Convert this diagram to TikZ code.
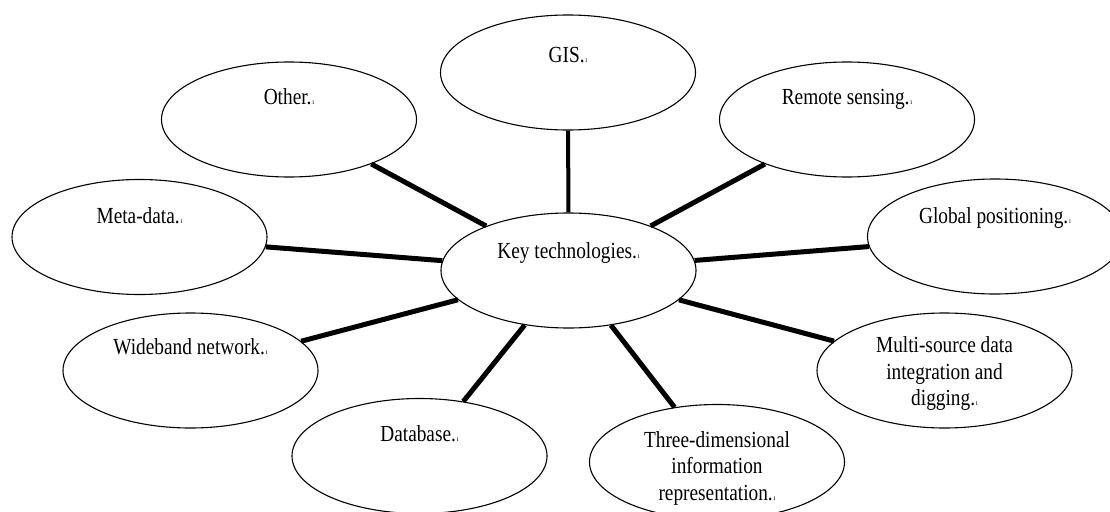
\documentclass[tikz,border=0pt]{standalone}
\usepackage{fontspec}
\setmainfont[FakeStretch=0.84]{Liberation Serif}
\usetikzlibrary{shapes.geometric}
\newcommand\pmk{{\fontsize{8}{8}\selectfont\kern0.8pt ı}}
\begin{document}
\begin{tikzpicture}[x=1pt,y=-1pt,
  blob/.style={ellipse,draw=black,line width=1.1pt,minimum width=255pt,minimum height=115pt,inner sep=0pt,fill=white},
  lbl/.style={font=\fontsize{23}{26.5}\selectfont,align=center,inner sep=0pt,anchor=north,text height=15.5pt},
  lblm/.style={font=\fontsize{23}{26.5}\selectfont,align=center,inner sep=0pt,anchor=north},
  link/.style={line width=5pt,black}]
\clip (0,0) rectangle (1110,511);
\fill[white] (0,0) rectangle (1110,511);
% ellipses
\node[blob] (gis)   at (568,72.5)    {};
\node[blob] (other) at (289,119.5)   {};
\node[blob] (rs)    at (847,119.5)   {};
\node[blob] (meta)  at (139.5,237)   {};
\node[blob] (key)   at (568.5,270.5) {};
\node[blob] (gps)   at (995,236.5)   {};
\node[blob] (wide)  at (190.5,370.5) {};
\node[blob] (multi) at (944.5,370.5) {};
\node[blob] (db)    at (419.5,456)   {};
\node[blob] (three) at (717,462)     {};
% labels
\node[lbl] (tgis)   at ([yshift=-32pt]gis.north)   {GIS.\pmk};
\node[lbl] (tother) at ([yshift=-27pt]other.north) {Other.\pmk};
\node[lbl] (trs)    at ([yshift=-27pt]rs.north)    {Remote sensing.\pmk};
\node[lbl] (tmeta)  at ([yshift=-29pt]meta.north)  {Meta-data.\pmk};
\node[lbl] (tkey)   at ([yshift=-30pt]key.north)   {Key technologies.\pmk};
\node[lbl] (tgps)   at ([yshift=-29pt]gps.north)   {Global positioning.\pmk};
\node[lbl] (twide)  at ([yshift=-26pt]wide.north)  {Wideband network.\pmk};
\node[lblm] (tmulti) at ([yshift=-24pt]multi.north) {Multi-source data\\integration and\\digging.\pmk};
\node[lbl] (tdb)    at ([yshift=-28pt]db.north)    {Database.\pmk};
\node[lblm] (tthree) at ([yshift=-27pt]three.north) {Three-dimensional\\information\\representation.\pmk};
% connectors
\draw[link,line width=4pt] (key) -- (gis);
\draw[link] (key) -- (other);
\draw[link] (key) -- (rs);
\draw[link] (key) -- (meta);
\draw[link] (key) -- (gps);
\draw[link] (key) -- (wide);
\draw[link] (key) -- (multi);
\draw[link] (key) -- (db);
\draw[link] (key) -- (three);
\end{tikzpicture}
\end{document}
